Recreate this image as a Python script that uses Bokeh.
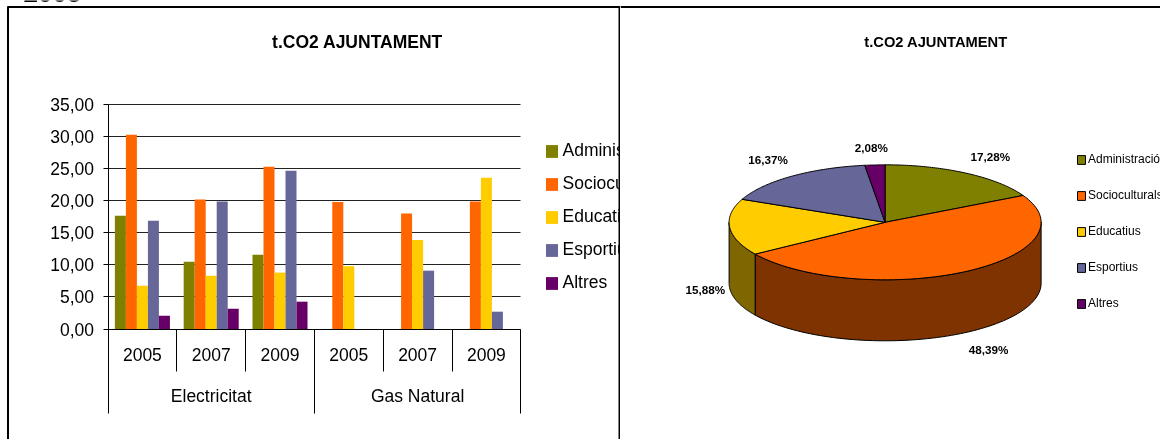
import numpy as np
from bokeh.embed import file_html
from bokeh.resources import INLINE
from bokeh.plotting import figure
from bokeh.layouts import row
from bokeh.core.properties import value
from bokeh.models import (Range1d, LinearAxis, FixedTicker, Legend, LegendItem, Grid)

series = ["Administració", "Socioculturals", "Educatius", "Esportius", "Altres"]
colors = ["#808000", "#FF6600", "#FFCC00", "#666699", "#660066"]
years = ["2005", "2007", "2009", "2005", "2007", "2009"]
groups = ["Electricitat", "Gas Natural"]
admin = [17.68, 10.5, 11.6, None, None, None]
socio = [30.3, 20.2, 25.3, 19.8, 18.0, 19.9]
educ = [6.76, 8.3, 8.8, 9.8, 13.9, 23.6]
esport = [16.9, 19.9, 24.7, None, 9.1, 2.7]
altres = [2.08, 3.17, 4.26, None, None, None]
y_labels = ["0,00", "5,00", "10,00", "15,00", "20,00", "25,00", "30,00", "35,00"]
title_text = "t.CO2 AJUNTAMENT"
pie_pct = [17.28, 48.39, 15.88, 16.37, 2.08]
pie_side = ["#7F6000", "#7F3300", "#806600", "#333366", "#330033"]
FONT = "Liberation Sans"

# ---------- left panel: pixel window of the figure and scales
LW, H = 620, 439
ax0, axw = 107.5, 68.8      # px of category 0, px per category
ay0, ayu = 328.5, 6.41      # px of value 0, px per unit
fx = lambda px: (px - ax0) / axw
fy = lambda py: (ay0 - py) / ayu

L = figure(width=LW, height=H, output_backend="svg", toolbar_location=None,
           x_range=Range1d(fx(0), fx(LW)), y_range=Range1d(fy(H), fy(0)),
           x_axis_type=None, y_axis_type=None, min_border=0,
           outline_line_color=None, background_fill_color="white", border_fill_color="white")

yticks = [5 * i for i in range(len(y_labels))]
yax = LinearAxis(fixed_location=0, bounds=(0, 35), ticker=FixedTicker(ticks=yticks),
                 major_label_overrides={t: s for t, s in zip(yticks, y_labels)},
                 major_tick_out=5, major_tick_in=0, minor_tick_line_color=None,
                 major_label_text_font=FONT, major_label_text_font_size="17.5px",
                 major_label_text_color="black", major_label_standoff=9,
                 axis_line_color="black", major_tick_line_color="black")
L.add_layout(yax, "left")

xax = LinearAxis(fixed_location=0, bounds=(0, 6),
                 ticker=FixedTicker(ticks=[0, 3, 6], minor_ticks=[1, 2, 4, 5]),
                 major_label_overrides={0: "", 3: "", 6: ""},
                 major_tick_out=84, major_tick_in=0, minor_tick_out=42, minor_tick_in=0,
                 axis_line_color="black", major_tick_line_color="black", minor_tick_line_color="black")
L.add_layout(xax, "below")

yr_ticks = [i + 0.5 for i in range(len(years))]
yrax = LinearAxis(fixed_location=0, ticker=FixedTicker(ticks=yr_ticks),
                  major_label_overrides={t: s for t, s in zip(yr_ticks, years)},
                  axis_line_color=None, major_tick_line_color=None, minor_tick_line_color=None,
                  major_tick_out=0, major_tick_in=0, minor_tick_out=0,
                  major_label_standoff=19, major_label_text_font=FONT,
                  major_label_text_font_size="17.5px", major_label_text_color="black")
L.add_layout(yrax, "below")

gr_ticks = [1.5, 4.5]
grax = LinearAxis(fixed_location=0, ticker=FixedTicker(ticks=gr_ticks),
                  major_label_overrides={t: s for t, s in zip(gr_ticks, groups)},
                  axis_line_color=None, major_tick_line_color=None, minor_tick_line_color=None,
                  major_tick_out=0, major_tick_in=0, minor_tick_out=0,
                  major_label_standoff=57, major_label_text_font=FONT,
                  major_label_text_font_size="17.5px", major_label_text_color="black")
L.add_layout(grax, "below")

grid = Grid(dimension=1, ticker=FixedTicker(ticks=yticks), cross_bounds=(0, 6),
            grid_line_color="#222222", grid_line_width=1)
L.add_layout(grid)

bar_w = 0.16
items = []
for k, vals in enumerate([admin, socio, educ, esport, altres]):
    xs = [i + 0.5 + (k - 2) * bar_w for i in range(len(vals))]
    tops = [np.nan if v is None else v for v in vals]
    r = L.vbar(x=xs, top=tops, bottom=0, width=bar_w, fill_color=colors[k], line_color=None)
    items.append(LegendItem(label=series[k], renderers=[r]))

leg = Legend(items=items, location=(543.5, H - 293), margin=0, padding=0,
             glyph_width=15, glyph_height=16, label_height=20, spacing=12,
             label_standoff=4, label_text_font=FONT, label_text_font_size="17.5px",
             label_text_color="black", border_line_color=None, background_fill_alpha=0)
L.add_layout(leg)

L.text(x=[fx(357)], y=[fy(41)], text=[title_text], text_font=value(FONT), text_font_style="bold",
       text_font_size="17.5px", text_align="center", text_baseline="middle", text_color="black")
L.text(x=[fx(23)], y=[fy(-8)], text=["2005"], text_font=value(FONT), text_font_style="bold",
       text_font_size="26px", text_align="left", text_baseline="alphabetic", text_color="black")
L.segment(x0=[fx(7), fx(7.5), fx(619)], y0=[fy(6.5), fy(6), fy(6)],
          x1=[fx(620), fx(7.5), fx(619)], y1=[fy(6.5), fy(439), fy(439)],
          line_color="black", line_width=2, level="overlay")

# ---------- right panel
RX0, RW = 620, 540
cx, cy, rx, ry, depth = 884.6, 221.8, 156.0, 57.5, 61.0
gx = lambda px: (px - cx) / rx
gy = lambda py: (cy - py) / ry

R = figure(width=RW, height=H, output_backend="svg", toolbar_location=None,
           x_range=Range1d(gx(RX0), gx(RX0 + RW)), y_range=Range1d(gy(H), gy(0)),
           x_axis_type=None, y_axis_type=None, min_border=0,
           outline_line_color=None, background_fill_color="white", border_fill_color="white")

d = depth / ry
edges = np.concatenate([[0], np.cumsum(pie_pct)]) / sum(pie_pct) * 2 * np.pi
for k in range(len(pie_pct)):
    a0, a1 = max(edges[k], np.pi / 2), min(edges[k + 1], 3 * np.pi / 2)
    if a1 > a0:
        t = np.linspace(a0, a1, 80)
        xs = np.sin(t)
        ys = np.cos(t)
        R.patch(x=np.r_[xs, xs[::-1]], y=np.r_[ys, ys[::-1] - d],
                fill_color=pie_side[k], line_color="black", line_width=1)
items2 = []
for k in range(len(pie_pct)):
    t = np.linspace(edges[k], edges[k + 1], 80)
    r = R.patch(x=np.r_[0, np.sin(t)], y=np.r_[0, np.cos(t)],
                fill_color=colors[k], line_color="black", line_width=1)
    items2.append(LegendItem(label=series[k], renderers=[r]))

leg2 = Legend(items=items2, location=(1076 - RX0, H - 310), margin=0, padding=0,
              glyph_width=10, glyph_height=11, label_height=14, spacing=22,
              label_standoff=2, label_text_font=FONT, label_text_font_size="12px",
              label_text_color="black", border_line_color=None, background_fill_alpha=0)
R.add_layout(leg2)

R.text(x=[gx(935.5)], y=[gy(41)], text=[title_text], text_font=value(FONT), text_font_style="bold",
       text_font_size="14.7px", text_align="center", text_baseline="middle", text_color="black")

lab_x = [989.7, 988, 704.8, 767.6, 870.7]
lab_y = [155.7, 349, 289, 159, 147.3]
R.text(x=[gx(v) for v in lab_x], y=[gy(v) for v in lab_y],
       text=[f"{v:.2f}%".replace(".", ",") for v in pie_pct],
       text_font=value(FONT), text_font_style="bold", text_font_size="11.7px",
       text_align="center", text_baseline="middle", text_color="black")
R.segment(x0=[gx(620)], y0=[gy(6.5)], x1=[gx(1160)], y1=[gy(6.5)], line_color="black", line_width=2)

page = row(L, R, spacing=0, styles={"position": "fixed", "left": "0px", "top": "0px"})
open("out.html", "w").write(file_html(page, INLINE))
